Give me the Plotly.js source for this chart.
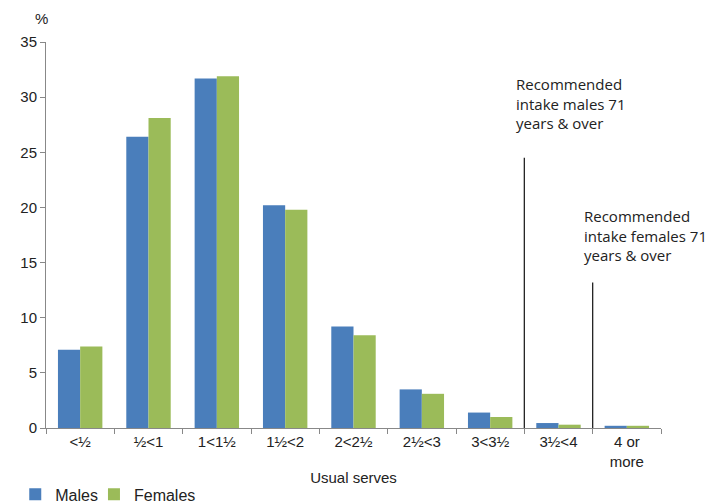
<!DOCTYPE html>
<html>
<head>
<meta charset="utf-8">
<script src="https://cdn.plot.ly/plotly-3.0.1.min.js"></script>
<style>html,body{margin:0;padding:0;background:#fff;}#chart{width:713px;height:504px;}</style>
</head>
<body>
<div id="chart"></div>
<script>
var categories = ["<½", "½<1", "1<1½", "1½<2", "2<2½", "2½<3", "3<3½", "3½<4", "4 or<br>more"];
var males = [7.1, 26.4, 31.7, 20.2, 9.2, 3.5, 1.4, 0.45, 0.2];
var females = [7.4, 28.1, 31.9, 19.8, 8.4, 3.1, 1.0, 0.3, 0.2];
var recLineX = [6.5, 7.5];
var recLineTop = [24.5, 13.2];
var recLabels = ["Recommended<br>intake males 71<br>years & over", "Recommended<br>intake females 71<br>years & over"];

var axisFont = {family: "Liberation Sans, Arial, sans-serif", size: 15, color: "#222"};
var noteFont = {family: "Open Sans, sans-serif", size: 15, color: "#222"};
var legendFont = {family: "Liberation Sans, Arial, sans-serif", size: 16, color: "#222"};

var traces = [
  {type: "bar", name: "Males", x: categories, y: males, marker: {color: "#4A7EBB"}, legend: "legend"},
  {type: "bar", name: "Females", x: categories, y: females, marker: {color: "#9BBB59"}, legend: "legend2"}
];

var shapes = recLineX.map(function (xv, i) {
  return {type: "line", xref: "x", yref: "y", x0: xv, x1: xv, y0: 0, y1: recLineTop[i],
          line: {color: "#222", width: 1.3}};
});

var annotations = [
  {text: "%", xref: "paper", yref: "paper", x: -0.008, y: 1.062, xanchor: "center", yanchor: "middle",
   showarrow: false, font: axisFont},
  {text: recLabels[0], xref: "paper", yref: "y", x: 0.761, y: 29.4, xanchor: "left", yanchor: "middle",
   align: "left", showarrow: false, font: noteFont},
  {text: recLabels[1], xref: "paper", yref: "y", x: 0.8715, y: 17.5, xanchor: "left", yanchor: "middle",
   align: "left", showarrow: false, font: noteFont}
];

var legendBase = {orientation: "h", y: -0.172, xanchor: "left", yanchor: "middle", font: legendFont,
                  itemwidth: 30, bgcolor: "rgba(0,0,0,0)"};

var layout = {
  width: 713, height: 504,
  margin: {l: 46, r: 52, t: 42, b: 76, autoexpand: false},
  paper_bgcolor: "#fff", plot_bgcolor: "#fff",
  barmode: "group", bargap: 0.35, bargroupgap: 0,
  showlegend: true,
  legend: Object.assign({}, legendBase, {x: -0.05}),
  legend2: Object.assign({}, legendBase, {x: 0.078}),
  xaxis: {type: "category", range: [-0.5, 8.5], showgrid: false, showline: true, linecolor: "#888",
          linewidth: 1, ticks: "outside", tickson: "boundaries", ticklen: 5, tickcolor: "#888",
          tickfont: axisFont, fixedrange: true, zeroline: false, automargin: false,
          title: {text: "Usual serves", font: axisFont, standoff: 3}},
  yaxis: {range: [0, 35], dtick: 5, showgrid: false, showline: true, linecolor: "#888", linewidth: 1,
          ticks: "outside", ticklen: 5, tickcolor: "#888", tickfont: axisFont, zeroline: false,
          fixedrange: true, automargin: false},
  shapes: shapes,
  annotations: annotations
};

Plotly.newPlot("chart", traces, layout, {displayModeBar: false, staticPlot: true});
</script>
</body>
</html>
